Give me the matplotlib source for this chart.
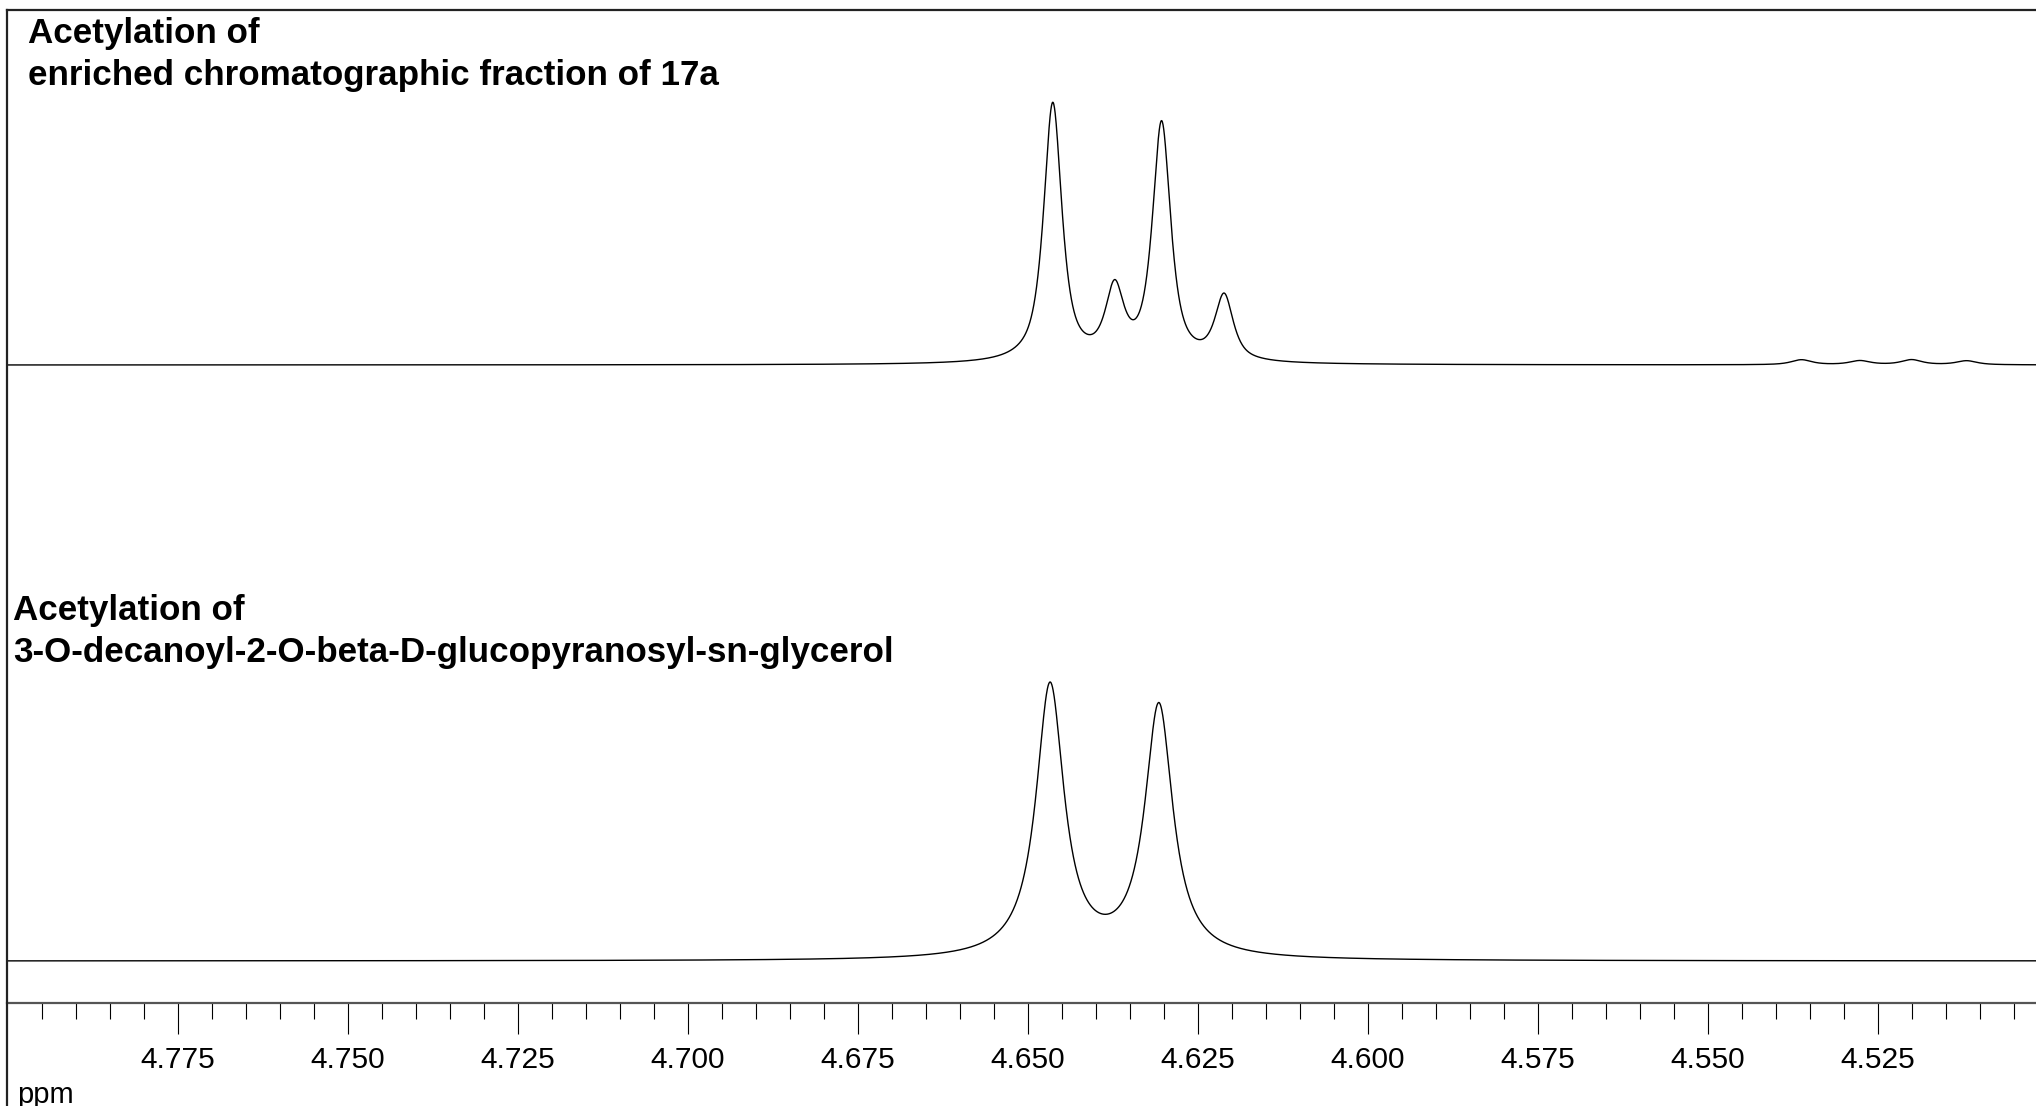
import numpy as np
import matplotlib.pyplot as plt
from matplotlib.lines import Line2D
from matplotlib.ticker import FixedLocator, FixedFormatter

plt.rcParams['font.family'] = ['Liberation Sans', 'DejaVu Sans']

# peak lists (ppm, height, full width at half height in ppm)
top_ppm = [4.6463, 4.6372, 4.6303, 4.6211, 4.5362, 4.5276, 4.5200, 4.5119]
top_height = [259, 69, 238, 65, 5, 4, 5, 4]
top_fwhm = [0.0032, 0.0032, 0.0032, 0.0032, 0.0036, 0.0036, 0.0036, 0.0036]

bottom_ppm = [4.6467, 4.6307]
bottom_height = [273, 252]
bottom_fwhm = [0.0050, 0.0050]

# lorentzian fraction of the line shape
top_eta = 0.8
bottom_eta = 1.0

top_title = ["Acetylation of", "enriched chromatographic fraction of 17a"]
bottom_title = ["Acetylation of", "3-O-decanoyl-2-O-beta-D-glucopyranosyl-sn-glycerol"]

major_ticks = [4.775, 4.750, 4.725, 4.700, 4.675, 4.650, 4.625, 4.600, 4.575, 4.550, 4.525]
major_labels = ["4.775", "4.750", "4.725", "4.700", "4.675", "4.650", "4.625",
                "4.600", "4.575", "4.550", "4.525"]
minor_ticks = [round(4.800 - 0.005 * i, 3) for i in range(1, 60)]

ppm_left, ppm_right = 4.8001, 4.5017


def pseudo_voigt(x, centers, heights, fwhm, eta):
    y = np.zeros_like(x)
    for c, h, w in zip(centers, heights, fwhm):
        u = (x - c) / (w / 2.0)
        lor = 1.0 / (1.0 + u ** 2)
        gau = np.exp(-np.log(2) * u ** 2)
        y += h * (eta * lor + (1 - eta) * gau)
    return y


ppm = np.linspace(ppm_left, ppm_right, 6000)
spec_top = pseudo_voigt(ppm, top_ppm, top_height, top_fwhm, top_eta)
spec_bottom = pseudo_voigt(ppm, bottom_ppm, bottom_height, bottom_fwhm, bottom_eta)

W, H = 2036, 1106
fig = plt.figure(figsize=(W / 100, H / 100), dpi=100)

# axes spans from the top frame line down to the ppm axis line
ax_top_px, ax_bot_px, ax_left_px = 10, 1003, 7
ax = fig.add_axes([ax_left_px / W, 1 - ax_bot_px / H,
                   1 - ax_left_px / W, (ax_bot_px - ax_top_px) / H])
ax.set_xlim(ppm_left, ppm_right)
ax.set_ylim(0, ax_bot_px - ax_top_px)

off_top = 638
off_bottom = 42
ax.plot(ppm, spec_top + off_top, color='black', lw=1.0)
ax.plot(ppm, spec_bottom + off_bottom, color='black', lw=1.0)

for s in ['left', 'right', 'top']:
    ax.spines[s].set_visible(False)
ax.spines['bottom'].set_color('#555555')
ax.spines['bottom'].set_linewidth(1.6)

ax.xaxis.set_major_locator(FixedLocator(major_ticks))
ax.xaxis.set_major_formatter(FixedFormatter(major_labels))
ax.xaxis.set_minor_locator(FixedLocator(minor_ticks))
ax.tick_params(axis='x', which='major', direction='out', length=22, width=0.8,
               labelsize=21.5, pad=9, color='black')
ax.tick_params(axis='x', which='minor', direction='out', length=11.5, width=0.8,
               color='black')
ax.set_yticks([])

# outer frame: top and left lines
fig.add_artist(Line2D([ax_left_px / W, 1], [1 - ax_top_px / H, 1 - ax_top_px / H],
                      transform=fig.transFigure, color='#222222', lw=1.6))
fig.add_artist(Line2D([ax_left_px / W, ax_left_px / W], [0, 1 - ax_top_px / H],
                      transform=fig.transFigure, color='#222222', lw=1.6))

# spectrum titles
title_fs = 25.2
fig.text(28 / W, 1 - 43 / H, top_title[0], fontsize=title_fs, fontweight='bold', va='baseline')
fig.text(28 / W, 1 - 85 / H, top_title[1], fontsize=title_fs, fontweight='bold', va='baseline')
fig.text(13 / W, 1 - 620 / H, bottom_title[0], fontsize=title_fs, fontweight='bold', va='baseline')
fig.text(13 / W, 1 - 662 / H, bottom_title[1], fontsize=title_fs, fontweight='bold', va='baseline')

fig.text(17 / W, 1 - 1103 / H, "ppm", fontsize=21, va='baseline')

fig.savefig("out.png", dpi=100)
